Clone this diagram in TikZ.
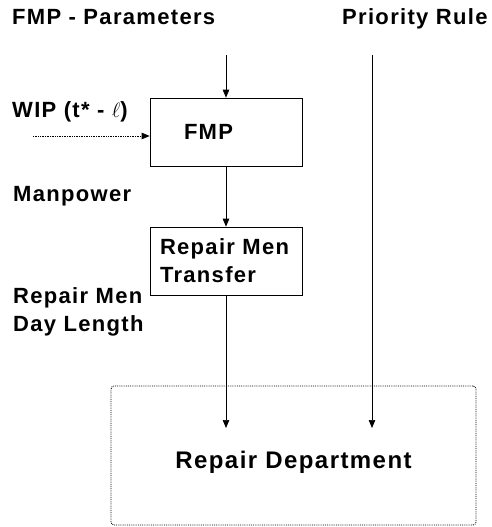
\documentclass[tikz,border=0pt]{standalone}
\usepackage{fontspec}
\usepackage{tikz}
\usetikzlibrary{arrows.meta,positioning}
\newfontfamily\lblfont[LetterSpace=6]{Liberation Sans}

\begin{document}
\begin{tikzpicture}[
  x=1pt,y=-1pt,
  lbl/.style={font=\lblfont\bfseries\fontsize{22}{28}\selectfont,align=left,inner sep=0pt},
  box/.style={draw,line width=0.7pt,inner ysep=0pt,minimum height=68pt,align=left},
  dept/.style={draw,densely dotted,line width=0.85pt,rounded corners=3pt,minimum width=365pt,minimum height=139pt,
    text height=25pt,text depth=0pt,font=\lblfont\bfseries\fontsize{24}{28}\selectfont},
  arr/.style={-{Triangle[length=8pt,width=6.5pt]},line width=0.7pt},
  dotarr/.style={arr,densely dotted}
]
\useasboundingbox (0,0) rectangle (492,527);
\node[lbl,anchor=base west] (params) at (12,25) {FMP - Parameters};
\node[lbl,anchor=base west] (prio) at (342,25) {Priority Rule};
\node[lbl,anchor=base west] (wip) at (12,117) {WIP (t* - $\ell$)};
\node[lbl,anchor=base west] (manp) at (13,201) {Manpower};
\node[lbl,anchor=base west] (daylen) at (13,331) {Repair Men\\Day Length};
\node[box,lbl,draw,inner xsep=34pt,text width=84pt] (fmp) at (226,132) {FMP};
\node[box,lbl,draw,inner xsep=10pt,text width=132pt] (rmt) at (226,261) {Repair Men\\Transfer};
\node[dept] (repdept) at (293.5,455.5) {Repair Department};
\coordinate (fmpin) at (226,55);
\coordinate (wipin) at (33,136);
\coordinate (prtop) at (372,55);
\coordinate (prend) at (372,428);
\coordinate (rmtend) at (226,428);
\draw[arr] (fmpin) -- (fmp);
\draw[dotarr] (wipin) -- (wipin -| fmp.west);
\draw[arr] (fmp) -- (rmt);
\draw[arr] (rmt) -- (rmtend);
\draw[arr] (prtop) -- (prend);
\end{tikzpicture}
\end{document}
